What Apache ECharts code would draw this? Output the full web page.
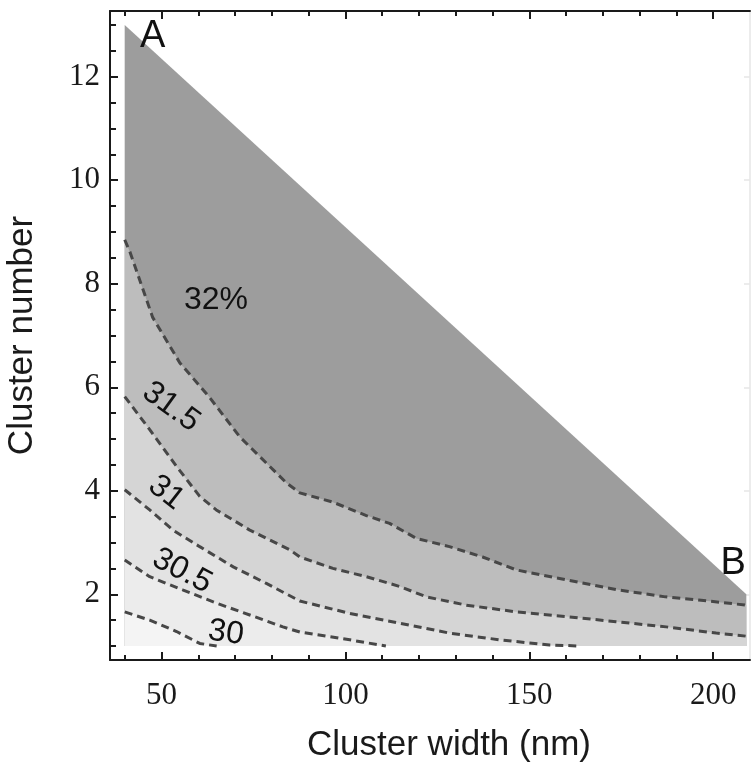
<!DOCTYPE html>
<html>
<head>
<meta charset="utf-8">
<title>Cluster width vs cluster number</title>
<script src="https://cdn.jsdelivr.net/npm/echarts@6/dist/echarts.min.js"></script>
<style>
  html, body { margin: 0; padding: 0; background: #fff; }
  #chart { width: 751px; height: 768px; }
</style>
</head>
<body>
<div id="chart"></div>
<script>
// Axis ticks
const X_MAJOR = [50, 100, 150, 200];
const X_MINOR = [40, 60, 70, 80, 90, 110, 120, 130, 140, 160, 170, 180, 190];
const Y_MAJOR = [2, 4, 6, 8, 10, 12];
const Y_MINOR = [1, 1.5, 2.5, 3, 3.5, 4.5, 5, 5.5, 6.5, 7, 7.5, 8.5, 9, 9.5, 10.5, 11, 11.5, 12.5, 13];

// Feasible region: width (nm) vs cluster number, corners A (top-left) and B (right)
const REGION = [[40, 1], [40, 13], [209, 2], [209, 1]];

// Efficiency contours (%), [width nm, cluster number]
const C32 = [[40, 8.85], [41.5, 8.6], [47.6, 7.35], [55, 6.47], [63, 5.81], [71.3, 5.04], [84, 4.15],
  [87.6, 3.96], [96.6, 3.78], [105.7, 3.52], [112, 3.37], [119.3, 3.08], [128.3, 2.92], [137.3, 2.72],
  [146.5, 2.47], [160, 2.28], [173.6, 2.09], [187, 1.95], [196, 1.89], [209, 1.79]];
const C31_5 = [[40, 5.82], [46.8, 5.18], [54.1, 4.47], [60.4, 3.89], [64.9, 3.63], [74, 3.24], [84.9, 2.86],
  [87.6, 2.72], [96.6, 2.5], [105.7, 2.34], [114.8, 2.15], [122, 1.95], [132.9, 1.79], [146.5, 1.66],
  [160, 1.57], [173.6, 1.47], [187.2, 1.37], [200.8, 1.25], [209, 1.19]];
const C31 = [[40, 4.02], [46.8, 3.63], [53.1, 3.24], [60.4, 2.92], [69.5, 2.53], [78.5, 2.21], [87.6, 1.87],
  [101.2, 1.63], [114.8, 1.44], [128.3, 1.25], [141.9, 1.12], [155.5, 1.02], [164, 1.0]];
const C30_5 = [[40, 2.66], [46.8, 2.34], [55.9, 2.08], [64.9, 1.83], [74, 1.6], [83, 1.37], [87.6, 1.27],
  [101.2, 1.12], [111, 1.0]];
const C30 = [[40, 1.66], [46.8, 1.5], [54.1, 1.28], [60.4, 1.05], [65, 1.0]];

// Contour labels and corner markers
const LABEL_TEXT = ['32%', '31.5', '31', '30.5', '30', 'A', 'B'];
const LABEL_AT = [[64.8, 7.69], [52.6, 5.62], [51.3, 3.96], [55.6, 2.45], [67.5, 1.25], [47.6, 12.77], [205.4, 2.6]];

const LABEL_STYLE = [
  { angle: 0, size: 32 }, { angle: -36, size: 32 }, { angle: -38, size: 32 }, { angle: -28, size: 32 },
  { angle: -8, size: 32 }, { angle: 0, size: 38 }, { angle: 0, size: 38 }
];

const SANS = '"Liberation Sans", Arial, sans-serif';
const SERIF = '"Liberation Serif", "Times New Roman", serif';
const INK = '#1a1a1a';

// Filled band below a contour, closed along the bottom edge of the region
function bandBelow(line) {
  const pts = line.slice();
  const last = pts[pts.length - 1];
  if (last[1] > 1) pts.push([last[0], 1]);
  pts.push([40, 1]);
  return pts;
}

function polygonSeries(points, color, z) {
  return {
    type: 'custom',
    coordinateSystem: 'cartesian2d',
    z: z,
    silent: true,
    data: [0],
    renderItem: function (params, api) {
      return {
        type: 'polygon',
        shape: { points: points.map(p => api.coord(p)) },
        style: { fill: color, stroke: null }
      };
    }
  };
}

function contourSeries(points) {
  return {
    type: 'line',
    data: points,
    showSymbol: false,
    symbol: 'none',
    z: 10,
    silent: true,
    lineStyle: { color: '#474747', width: 3, type: [8, 5] }
  };
}

const ticksAxis = (pos, values, len, extra) => Object.assign({
  type: 'value', position: pos, min: pos === 'bottom' || pos === 'top' ? 36 : 0.73,
  max: pos === 'bottom' || pos === 'top' ? 210 : 13.27,
  axisLine: { show: false, onZero: false },
  axisTick: { show: true, inside: true, length: len, customValues: values, lineStyle: { color: INK, width: 2 } },
  axisLabel: { show: false },
  splitLine: { show: false }
}, extra || {});

const option = {
  backgroundColor: '#ffffff',
  animation: false,
  grid: { left: 110, top: 11, width: 640, height: 649, containLabel: false, outerBoundsMode: 'none' },
  xAxis: [
    ticksAxis('bottom', X_MAJOR, 8, {
      axisLine: { show: true, onZero: false, lineStyle: { color: INK, width: 2 } },
      axisLabel: { show: true, customValues: X_MAJOR, color: INK, fontFamily: SERIF, fontSize: 31, margin: 20 },
      name: 'Cluster width (nm)', nameLocation: 'middle', nameGap: 68,
      nameTextStyle: { fontFamily: SANS, fontSize: 35, color: INK, padding: [0, 0, 0, 38] }
    }),
    ticksAxis('bottom', X_MINOR, 5),
    ticksAxis('top', X_MAJOR, 8, { axisLine: { show: true, onZero: false, lineStyle: { color: INK, width: 2 } } }),
    ticksAxis('top', X_MINOR, 5)
  ],
  yAxis: [
    ticksAxis('left', Y_MAJOR, 8, {
      axisLine: { show: true, onZero: false, lineStyle: { color: INK, width: 2 } },
      axisLabel: { show: true, customValues: Y_MAJOR, color: INK, fontFamily: SERIF, fontSize: 31, margin: 10 },
      name: 'Cluster number', nameLocation: 'middle', nameGap: 70, nameRotate: 90,
      nameTextStyle: { fontFamily: SANS, fontSize: 35, color: INK }
    }),
    ticksAxis('left', Y_MINOR, 6),
    ticksAxis('right', Y_MAJOR, 6, {
      axisLine: { show: true, onZero: false, lineStyle: { color: '#e6e6e6', width: 1.5 } },
      axisTick: { show: true, inside: true, length: 6, customValues: Y_MAJOR, lineStyle: { color: '#e6e6e6', width: 1.5 } }
    })
  ],
  series: [
    polygonSeries(REGION, '#9d9d9d', 1),
    polygonSeries(bandBelow(C32), '#bdbdbd', 2),
    polygonSeries(bandBelow(C31_5), '#d5d5d5', 3),
    polygonSeries(bandBelow(C31), '#e3e3e3', 4),
    polygonSeries(bandBelow(C30_5), '#ececec', 5),
    polygonSeries(bandBelow(C30), '#f4f4f4', 6),
    contourSeries(C32),
    contourSeries(C31_5),
    contourSeries(C31),
    contourSeries(C30_5),
    contourSeries(C30),
    {
      type: 'custom',
      coordinateSystem: 'cartesian2d',
      z: 20,
      silent: true,
      data: LABEL_AT,
      renderItem: function (params, api) {
        const p = api.coord([api.value(0), api.value(1)]);
        const st = LABEL_STYLE[params.dataIndex];
        return {
          type: 'text',
          x: p[0], y: p[1],
          rotation: st.angle * Math.PI / 180,
          style: {
            text: LABEL_TEXT[params.dataIndex],
            font: st.size + 'px ' + SANS,
            fill: '#111',
            align: 'center',
            verticalAlign: 'middle'
          }
        };
      }
    }
  ]
};

const chart = echarts.init(document.getElementById('chart'), null, { renderer: 'canvas' });
chart.setOption(option);
</script>
</body>
</html>
